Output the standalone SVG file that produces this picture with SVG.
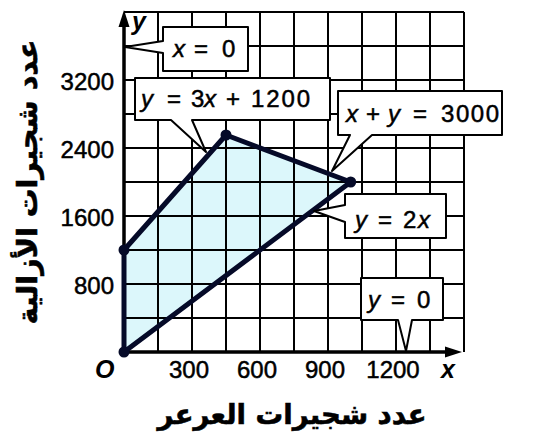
<svg xmlns="http://www.w3.org/2000/svg" width="547" height="434" viewBox="0 0 547 434">
<style>
.grid{stroke:#000;stroke-width:2;fill:none}
.axis{stroke:#000;stroke-width:3.5;fill:none}
.edge{stroke:#050a28;stroke-width:5;fill:none;stroke-linejoin:round}
.box{fill:#fff;stroke:#000;stroke-width:2;stroke-linejoin:round}
.t{font-family:"Liberation Sans",Arial,sans-serif;font-size:24px;fill:#000;stroke:#000;stroke-width:0.5}
.v{font-style:italic}
.ax{font-family:"Liberation Sans",Arial,sans-serif;font-size:25px;font-weight:bold;font-style:italic;fill:#000}
.ar{font-family:"DejaVu Sans",sans-serif;font-size:28px;font-weight:bold;fill:#000;stroke:#000;stroke-width:0.6}
</style>
<rect width="547" height="434" fill="#fff"/>
<g id="region">
<polygon points="124,352 124,250 226,135 350.7,182" fill="#dcf7fb"/>
</g>
<g id="grid">
<path class="grid" d="M158,12V352M192,12V352M226,12V352M260,12V352M294,12V352M328,12V352M362,12V352M396,12V352M430,12V352M464,12V352M124,12H464M124,46H464M124,80H464M124,114H464M124,148H464M124,182H464M124,216H464M124,250H464M124,284H464M124,318H464"/>
</g>
<g id="axes">
<path class="axis" d="M124,352V24M124,352H448"/>
<polygon points="124,10 118.5,27 129.5,27" fill="#000"/>
<polygon points="462,352 445,346.5 445,357.5" fill="#000"/>
</g>
<g id="connectors">
<polyline class="edge" points="124,352 124,250 226,135 350.7,182 124,352"/>
<circle cx="124" cy="352" r="5.5" fill="#050a28"/>
<circle cx="124" cy="250" r="5.5" fill="#050a28"/>
<circle cx="226" cy="135" r="5.5" fill="#050a28"/>
<circle cx="350.7" cy="182" r="5.5" fill="#050a28"/>
</g>
<g id="ticks">
<text class="t" x="114" y="90" text-anchor="end">3200</text>
<text class="t" x="114" y="158" text-anchor="end">2400</text>
<text class="t" x="114" y="226" text-anchor="end">1600</text>
<text class="t" x="114" y="294" text-anchor="end">800</text>
<text class="t" x="189" y="378" text-anchor="middle">300</text>
<text class="t" x="257" y="378" text-anchor="middle">600</text>
<text class="t" x="325" y="378" text-anchor="middle">900</text>
<text class="t" x="393" y="378" text-anchor="middle">1200</text>
<text class="ax" x="95" y="378">O</text>
<text class="ax" x="441" y="378">x</text>
<text class="ax" x="132" y="30">y</text>
</g>
<g id="label-x0">
<path class="box" d="M163,27H248V71H163V53L125,47L163,41Z"/>
<text class="t" y="57"><tspan class="v" x="173">x</tspan><tspan x="194">=</tspan><tspan x="222">0</tspan></text>
</g>
<g id="label-line1">
<path class="box" d="M135,78H330V120H192L206,152L171,120H135Z"/>
<text class="t" y="107"><tspan class="v" x="141">y</tspan><tspan x="167">=</tspan><tspan x="191">3</tspan><tspan class="v" x="204">x</tspan><tspan x="226">+</tspan><tspan x="251" textLength="59">1200</tspan></text>
</g>
<g id="label-line2">
<path class="box" d="M338,91H502V135H372L332,171L350,135H338Z"/>
<text class="t" y="122"><tspan class="v" x="346">x</tspan><tspan x="366">+</tspan><tspan class="v" x="388">y</tspan><tspan x="413">=</tspan><tspan x="441" textLength="58">3000</tspan></text>
</g>
<g id="label-line3">
<path class="box" d="M345,194H446V238H345V222L314,211L345,205Z"/>
<text class="t" y="228"><tspan class="v" x="355">y</tspan><tspan x="378">=</tspan><tspan x="403">2</tspan><tspan class="v" x="418">x</tspan></text>
</g>
<g id="label-y0">
<path class="box" d="M361,278H443V320H412L406,351L398,320H361Z"/>
<text class="t" y="308"><tspan class="v" x="368">y</tspan><tspan x="391">=</tspan><tspan x="417">0</tspan></text>
</g>
<g id="titles">
<text class="ar" x="292" y="414" text-anchor="middle" dominant-baseline="central" textLength="269" lengthAdjust="spacingAndGlyphs">عدد شجيرات العرعر</text>
<text class="ar" transform="translate(27,182) rotate(-90)" x="0" y="0" text-anchor="middle" dominant-baseline="central" textLength="285" lengthAdjust="spacingAndGlyphs">عدد شجيرات الأزالية</text>
</g>
</svg>
